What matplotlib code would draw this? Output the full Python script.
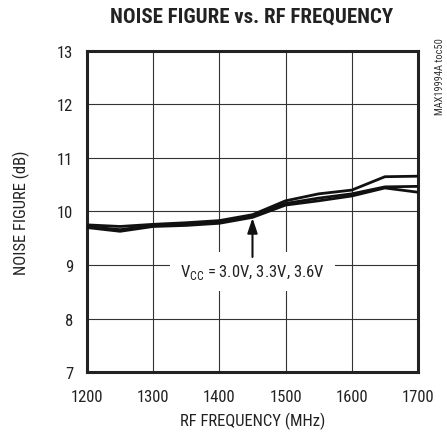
import matplotlib
matplotlib.use('Agg')
import matplotlib.pyplot as plt

plt.rcParams['font.family'] = ['Roboto Condensed', 'DejaVu Sans']

freq = [1200, 1250, 1300, 1350, 1400, 1450, 1500, 1550, 1600, 1650, 1700]
nf_a = [9.75, 9.72, 9.76, 9.79, 9.83, 9.94, 10.20, 10.33, 10.40, 10.65, 10.66]
nf_b = [9.72, 9.66, 9.74, 9.77, 9.80, 9.91, 10.15, 10.25, 10.33, 10.46, 10.47]
nf_c = [9.70, 9.63, 9.72, 9.74, 9.78, 9.89, 10.12, 10.20, 10.29, 10.44, 10.36]

xticks = [1200, 1300, 1400, 1500, 1600, 1700]
yticks = [7, 8, 9, 10, 11, 12, 13]

fig = plt.figure(figsize=(4.47, 4.35), dpi=100)
ax = fig.add_axes([0.1946, 0.1425, 0.7405, 0.738])

for nf in (nf_a, nf_b, nf_c):
    ax.plot(freq, nf, color='#111111', lw=2.0, zorder=3)

ax.set_xlim(1200, 1700)
ax.set_ylim(7, 13)
ax.set_xticks(xticks)
ax.set_yticks(yticks)
ax.grid(True, color='#333333', lw=0.8)
ax.tick_params(length=0, labelsize=12, colors='#222222')
ax.tick_params(axis='x', pad=12)
ax.tick_params(axis='y', pad=10)
for s in ax.spines.values():
    s.set_linewidth(2.2)
    s.set_color('#222222')

ax.set_xlabel('RF FREQUENCY (MHz)', fontsize=12, color='#222222', labelpad=6)
ax.set_ylabel('NOISE FIGURE (dB)', fontsize=12, color='#222222', labelpad=19)
fig.text(0.562, 0.96, 'NOISE FIGURE vs. RF FREQUENCY', ha='center', va='center',
         fontsize=15, fontweight='bold', color='#222222')
fig.text(0.984, 0.823, 'MAX19994A toc50', rotation=90, ha='center', va='center',
         fontsize=7.5, color='#333333')

ax.text(1450, 8.87, r'V$_{\mathregular{CC}}$ = 3.0V, 3.3V, 3.6V', ha='center', va='center',
        fontsize=12, color='#222222', zorder=4,
        bbox=dict(boxstyle='square,pad=0.6', fc='white', ec='none'))
ax.annotate('', xy=(1450, 9.88), xytext=(1450, 9.15),
            arrowprops=dict(arrowstyle='-|>,head_length=0.9,head_width=0.3',
                            color='#111111', lw=1.5, shrinkA=0, shrinkB=0), zorder=5)

fig.savefig('out.png', dpi=100)
